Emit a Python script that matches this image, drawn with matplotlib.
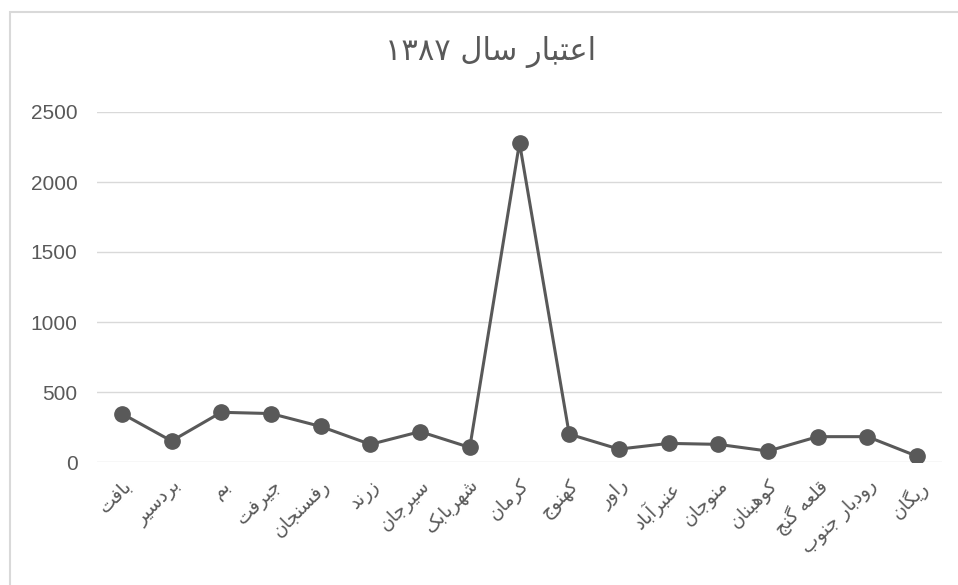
import matplotlib
matplotlib.use("Agg")
import matplotlib.pyplot as plt
from matplotlib.patches import Rectangle

# data
cities = ["بافت", "بردسیر", "بم", "جیرفت", "رفسنجان", "زرند", "سیرجان", "شهربابک",
          "کرمان", "کهنوج", "راور", "عنبرآباد", "منوجان", "کوهبنان", "قلعه گنج",
          "رودبار جنوب", "ریگان"]
credit = [346, 150, 355, 346, 254, 126, 217, 104, 2280, 199, 92, 133, 126, 78, 181, 181, 41]
title = "اعتبار سال ۱۳۸۷"
y_ticks = [0, 500, 1000, 1500, 2000, 2500]

# simple persian shaping (matplotlib has no arabic shaping)
# forms: isolated, final, initial, medial
FORMS = {
    "ا": (0xFE8D, 0xFE8E, None, None), "آ": (0xFE81, 0xFE82, None, None),
    "ب": (0xFE8F, 0xFE90, 0xFE91, 0xFE92), "پ": (0xFB56, 0xFB57, 0xFB58, 0xFB59),
    "ت": (0xFE95, 0xFE96, 0xFE97, 0xFE98), "ج": (0xFE9D, 0xFE9E, 0xFE9F, 0xFEA0),
    "چ": (0xFB7A, 0xFB7B, 0xFB7C, 0xFB7D), "د": (0xFEA9, 0xFEAA, None, None),
    "ر": (0xFEAD, 0xFEAE, None, None), "ز": (0xFEAF, 0xFEB0, None, None),
    "س": (0xFEB1, 0xFEB2, 0xFEB3, 0xFEB4), "ش": (0xFEB5, 0xFEB6, 0xFEB7, 0xFEB8),
    "ع": (0xFEC9, 0xFECA, 0xFECB, 0xFECC), "ف": (0xFED1, 0xFED2, 0xFED3, 0xFED4),
    "ق": (0xFED5, 0xFED6, 0xFED7, 0xFED8), "ک": (0xFB8E, 0xFB8F, 0xFB90, 0xFB91),
    "گ": (0xFB92, 0xFB93, 0xFB94, 0xFB95), "ل": (0xFEDD, 0xFEDE, 0xFEDF, 0xFEE0),
    "م": (0xFEE1, 0xFEE2, 0xFEE3, 0xFEE4), "ن": (0xFEE5, 0xFEE6, 0xFEE7, 0xFEE8),
    "و": (0xFEED, 0xFEEE, None, None), "ه": (0xFEE9, 0xFEEA, 0xFEEB, 0xFEEC),
    "ی": (0xFBFC, 0xFBFD, 0xFBFE, 0xFBFF),
}


def joins_left(c):
    return c in FORMS and FORMS[c][2] is not None


def shape(text):
    out = []
    i = 0
    while i < len(text):
        c = text[i]
        prev = text[i - 1] if i > 0 else ""
        nxt = text[i + 1] if i + 1 < len(text) else ""
        if c not in FORMS:
            out.append(c)
            i += 1
            continue
        p = joins_left(prev)
        if c == "ل" and nxt == "ا":
            out.append(chr(0xFEFC if p else 0xFEFB))
            i += 2
            continue
        n = joins_left(c) and nxt in FORMS
        iso, fin, ini, med = FORMS[c]
        if p and n:
            f = med
        elif p:
            f = fin
        elif n:
            f = ini
        else:
            f = iso
        out.append(chr(f))
        i += 1
    # visual order: reverse, but keep digit runs left to right
    tokens = []
    for ch in out:
        if ch.isdigit() and tokens and tokens[-1][0].isdigit():
            tokens[-1] += ch
        else:
            tokens.append(ch)
    return "".join(tokens[::-1])


grey = "#595959"
fonts = ["DejaVu Sans"]

fig = plt.figure(figsize=(9.58, 5.85), dpi=100)
ax = fig.add_axes([97 / 958, 1 - 462 / 585, 845 / 958, 350 / 585])

x = list(range(len(cities)))
ax.plot(x, credit, "-o", color=grey, lw=2.2, ms=11, zorder=3)

ax.set_ylim(0, 2500)
ax.set_xlim(-0.5, len(cities) - 0.5)
ax.set_yticks(y_ticks)
ax.set_yticklabels([str(v) for v in y_ticks], fontsize=15, color=grey, family=["Liberation Sans"])
ax.set_xticks(x)
ax.set_xticklabels([shape(c) for c in cities], rotation=45, ha="right",
                   rotation_mode="anchor", fontsize=13.5, color=grey, family=fonts)
ax.tick_params(axis="y", length=0, pad=14)
ax.tick_params(axis="x", length=0, pad=10)
ax.grid(axis="y", color="#d9d9d9", lw=1)
ax.set_axisbelow(True)
for s in ax.spines.values():
    s.set_visible(False)

fig.text(491 / 958, 1 - 52 / 585, shape(title), ha="center", va="center",
         fontsize=22, color=grey, family=fonts)

# chart frame
fig.patches.append(Rectangle((10 / 958, -0.1), 1.2, 1 - 12 / 585 + 0.1,
                             transform=fig.transFigure, fill=False,
                             edgecolor="#d9d9d9", lw=1.5))

fig.savefig("out.png", dpi=100, facecolor="white")
